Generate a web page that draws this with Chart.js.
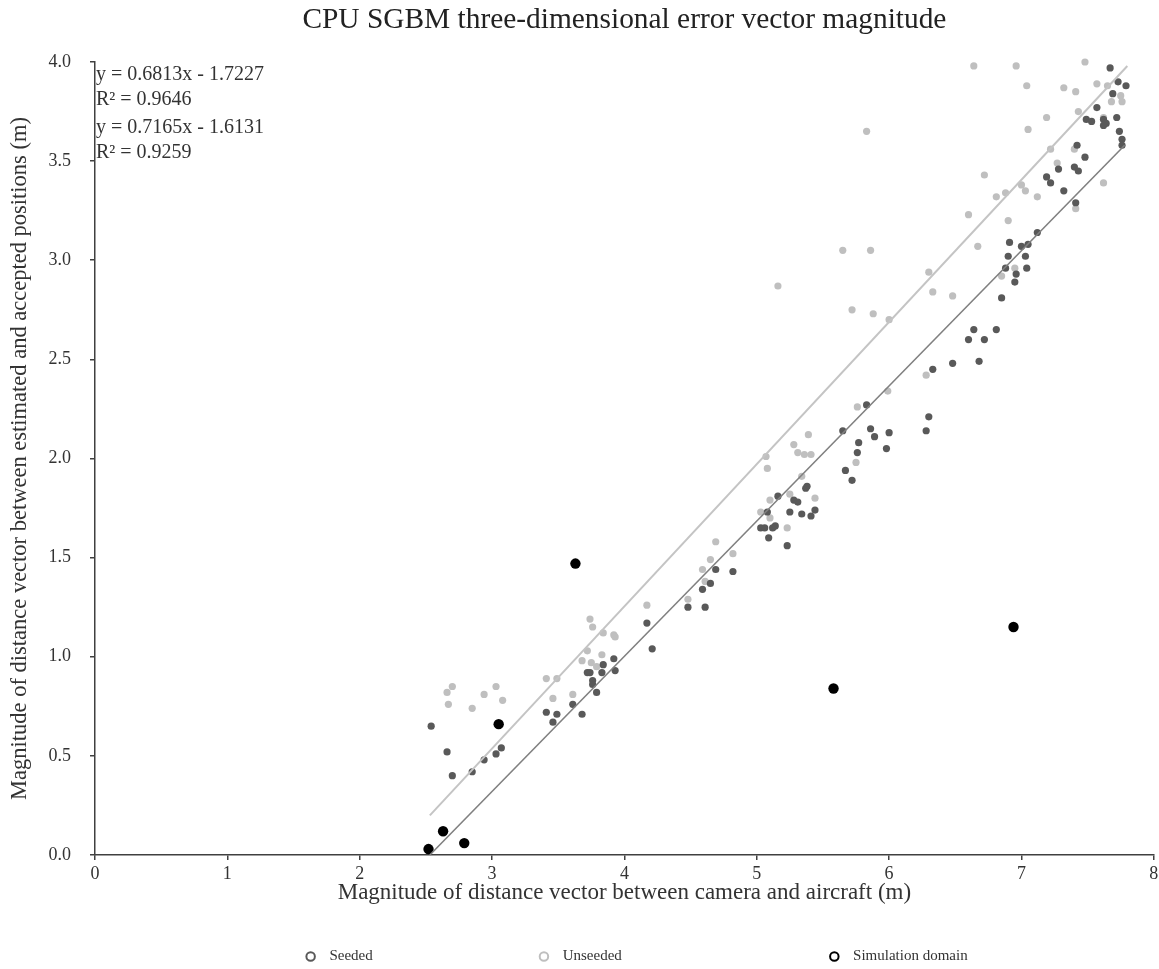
<!DOCTYPE html>
<html>
<head>
<meta charset="utf-8">
<script src="https://cdn.jsdelivr.net/npm/chart.js@4"></script>
<style>
html,body{margin:0;padding:0;background:#fff;}
#wrap{width:1159px;height:969px;}
</style>
</head>
<body>
<div id="wrap"><canvas id="c" width="1159" height="969"></canvas></div>
<script>
const chartTitle = "CPU SGBM three-dimensional error vector magnitude";
const xAxisTitle = "Magnitude of distance vector between camera and aircraft (m)";
const yAxisTitle = "Magnitude of distance vector between estimated and accepted positions (m)";
const seriesNames = ["Seeded", "Unseeded", "Simulation domain"];
const equationLines = ["y = 0.6813x - 1.7227", "R\u00B2 = 0.9646", "y = 0.7165x - 1.6131", "R\u00B2 = 0.9259"];

const seededX = [2.54,2.66,2.70,2.85,2.94,3.03,3.07,3.41,3.49,3.46,
  3.61,3.68,3.72,3.74,3.76,3.76,3.79,3.83,3.84,3.92,
  3.93,4.17,4.21,4.48,4.61,4.59,4.65,4.69,4.82,5.03,
  5.06,5.08,5.09,5.12,5.14,5.16,5.23,5.25,5.28,5.31,
  5.34,5.37,5.38,5.41,5.44,5.65,5.67,5.72,5.76,5.77,
  5.83,5.86,5.89,5.98,6.00,6.28,6.30,6.33,6.48,6.60,
  6.64,6.72,6.81,6.68,6.85,6.88,6.90,6.91,6.95,6.96,
  7.00,7.03,7.04,7.05,7.12,7.22,7.32,7.41,7.19,7.28,
  7.40,7.43,7.42,7.48,7.49,7.53,7.57,7.62,7.64,7.62,
  7.67,7.69,7.72,7.73,7.74,7.76,7.79,7.76];
const seededY = [0.65,0.52,0.40,0.42,0.48,0.51,0.54,0.72,0.71,0.67,
  0.76,0.71,0.92,0.92,0.88,0.86,0.82,0.92,0.96,0.99,
  0.93,1.17,1.04,1.25,1.25,1.34,1.37,1.44,1.43,1.65,
  1.65,1.73,1.60,1.65,1.66,1.81,1.56,1.73,1.79,1.78,
  1.72,1.85,1.86,1.71,1.74,2.14,1.94,1.89,2.03,2.08,
  2.27,2.15,2.11,2.05,2.13,2.14,2.21,2.45,2.48,2.60,
  2.65,2.60,2.65,2.49,2.81,2.96,3.02,3.09,2.89,2.93,
  3.07,3.02,2.96,3.08,3.14,3.39,3.35,3.29,3.42,3.46,
  3.47,3.45,3.58,3.52,3.71,3.70,3.77,3.71,3.69,3.68,
  3.97,3.84,3.72,3.90,3.65,3.61,3.88,3.58];

const unseededX = [2.66,2.70,2.67,2.85,2.94,3.03,3.08,3.41,3.49,3.46,
  3.61,3.68,3.72,3.74,3.76,3.75,3.79,3.83,3.84,3.92,
  3.93,4.17,4.48,4.59,4.61,4.65,4.82,4.69,5.03,5.07,
  5.08,5.10,5.10,5.23,5.25,5.28,5.31,5.34,5.36,5.39,
  5.41,5.44,5.76,5.75,5.99,5.72,5.88,6.00,6.28,5.16,
  5.65,5.86,5.83,6.30,6.33,6.48,6.60,6.67,6.81,6.88,
  6.90,6.85,6.95,7.00,7.03,7.12,7.41,6.64,6.96,7.04,
  7.05,6.72,7.19,7.22,7.32,7.41,7.48,7.43,7.27,7.57,
  7.65,7.68,7.75,7.76,7.62,7.62,7.40];
const unseededY = [0.82,0.85,0.76,0.74,0.81,0.85,0.78,0.89,0.89,0.79,
  0.81,0.98,1.03,1.19,1.15,0.97,0.95,1.01,1.12,1.11,
  1.10,1.26,1.29,1.44,1.38,1.49,1.52,1.58,1.73,2.01,
  1.95,1.79,1.70,1.65,1.82,2.07,2.03,1.91,2.02,2.12,
  2.02,1.80,2.26,1.98,2.34,2.75,2.73,2.70,2.42,2.87,
  3.05,3.05,3.65,2.94,2.84,2.82,3.23,3.07,3.32,3.34,
  3.20,2.92,2.96,3.38,3.35,3.32,3.26,3.98,3.98,3.88,
  3.66,3.43,3.72,3.56,3.87,3.85,4.00,3.75,3.49,3.89,
  3.88,3.80,3.83,3.80,3.39,3.72,3.56];

const simX = [2.52,2.63,2.79,3.05,3.63,5.58,6.94];
const simY = [0.03,0.12,0.06,0.66,1.47,0.84,1.15];

// trendline end points
const seededTrendX = [2.53, 7.78];
const seededTrendY = [0.00, 3.58];
const unseededTrendX = [2.53, 7.80];
const unseededTrendY = [0.20, 3.98];

const xTickValues = [0,1,2,3,4,5,6,7,8];
const yTickValues = [0.0,0.5,1.0,1.5,2.0,2.5,3.0,3.5,4.0];

const pts = (xs, ys) => xs.map((x, i) => ({x: x, y: ys[i]}));
const FONT = "'Liberation Serif', 'Times New Roman', serif";
const TXT = '#333333';
const SEED_C = '#595959', UNSEED_C = '#bfbfbf', SIM_C = '#000000';

const legendSpacing = [41, 52, 0];

const equationPlugin = {
  id: 'equations',
  afterLayout(chart) {
    if (chart.legend) { chart.legend.left += 11; chart.legend.right += 11; }
  },
  afterDatasetsDraw(chart) {
    const ctx = chart.ctx;
    ctx.save();
    ctx.font = "20px " + FONT;
    ctx.fillStyle = TXT;
    ctx.textBaseline = 'middle';
    ctx.textAlign = 'left';
    const ys = [75, 100, 128, 153];
    equationLines.forEach((t, i) => ctx.fillText(t, 96, ys[i]));
    ctx.restore();
  }
};

new Chart(document.getElementById('c'), {
  type: 'scatter',
  data: {
    datasets: [
      {label: 'trendSeeded', type: 'line', data: pts(seededTrendX, seededTrendY), borderColor: '#808080', borderWidth: 1.6, pointRadius: 0, showLine: true, fill: false, clip: false},
      {label: 'trendUnseeded', type: 'line', data: pts(unseededTrendX, unseededTrendY), borderColor: '#c4c4c4', borderWidth: 2, pointRadius: 0, showLine: true, fill: false, clip: false},
      {label: seriesNames[2], data: pts(simX, simY), backgroundColor: SIM_C, borderColor: SIM_C, pointRadius: 5.2, borderWidth: 0, clip: false},
      {label: seriesNames[0], data: pts(seededX, seededY), backgroundColor: SEED_C, borderColor: SEED_C, pointRadius: 3.6, borderWidth: 0, clip: false},
      {label: seriesNames[1], data: pts(unseededX, unseededY), backgroundColor: UNSEED_C, borderColor: UNSEED_C, pointRadius: 3.6, borderWidth: 0, clip: false}
    ]
  },
  options: {
    responsive: false,
    animation: false,
    layout: {padding: {left: 0, right: 0, top: 0, bottom: 0}},
    plugins: {
      tooltip: {enabled: false},
      title: {
        display: true, text: chartTitle, fullSize: false,
        font: {family: FONT, size: 29.4, weight: 'normal'}, color: '#222',
        padding: {top: 3, bottom: 23.7}
      },
      legend: {
        position: 'bottom', fullSize: false, maxHeight: 30,
        labels: {
          usePointStyle: true, boxWidth: 15, boxHeight: 6, padding: 10,
          font: {family: FONT, size: 15}, color: TXT,
          generateLabels(chart) {
            const order = [3, 4, 2];
            const colors = {3: SEED_C, 4: UNSEED_C, 2: SIM_C};
            return order.map((di, k) => ({
              text: ' ' + chart.data.datasets[di].label + ' '.repeat(legendSpacing[k]),
              fillStyle: '#ffffff', strokeStyle: colors[di], lineWidth: 2,
              pointStyle: 'circle', hidden: false, datasetIndex: di, fontColor: TXT
            }));
          }
        }
      }
    },
    scales: {
      x: {
        type: 'linear', min: 0, max: 8,
        afterFit(s) { s.height = 84; s.paddingRight = 4; s.paddingLeft = 0; },
        afterBuildTicks(s) { s.ticks = xTickValues.map(v => ({value: v})); },
        ticks: {font: {family: FONT, size: 18}, color: TXT, padding: 3, callback: v => String(v)},
        grid: {display: true, drawOnChartArea: false, drawTicks: true, tickLength: 5, color: '#404040', lineWidth: 1.5},
        border: {display: true, color: '#404040', width: 1.5},
        title: {display: true, text: xAxisTitle, font: {family: FONT, size: 23}, color: TXT, padding: {top: 0, bottom: 32}}
      },
      y: {
        type: 'linear', min: 0, max: 4,
        afterFit(s) { s.width = 95; },
        afterBuildTicks(s) { s.ticks = yTickValues.map(v => ({value: v})); },
        ticks: {font: {family: FONT, size: 18}, color: TXT, padding: 19, callback: v => Number(v).toFixed(1)},
        grid: {display: true, drawOnChartArea: false, drawTicks: true, tickLength: 5, color: '#404040', lineWidth: 1.5},
        border: {display: true, color: '#404040', width: 1.5},
        title: {display: true, text: yAxisTitle, font: {family: FONT, size: 22.5}, color: TXT, padding: {top: 7, bottom: 0}}
      }
    }
  },
  plugins: [equationPlugin]
});
</script>
</body>
</html>
